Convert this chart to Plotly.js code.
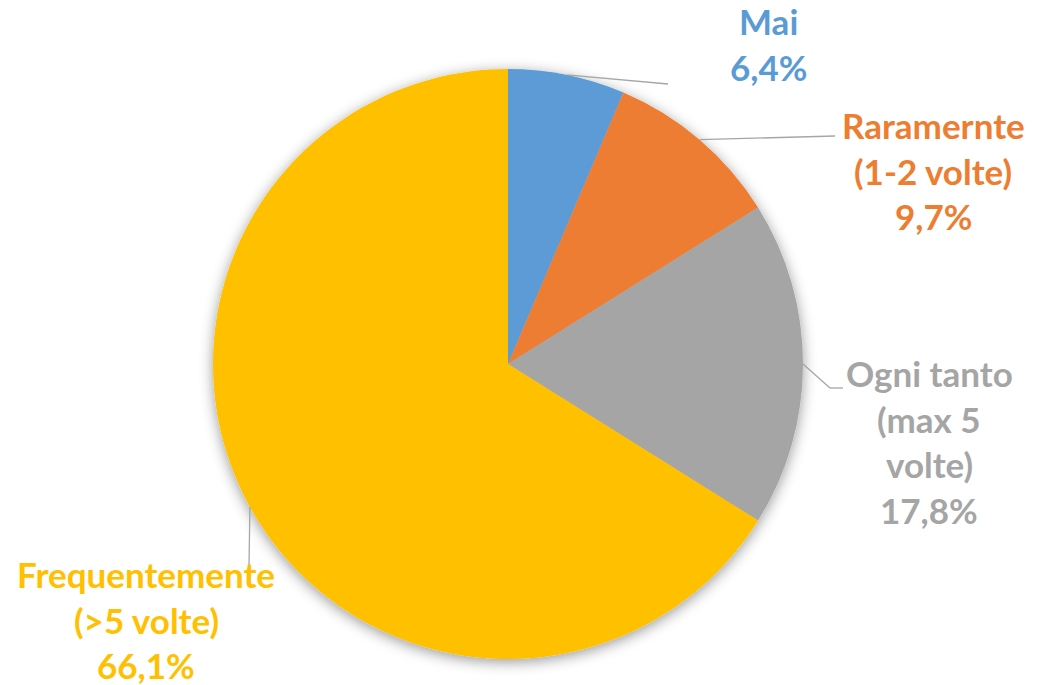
<!DOCTYPE html>
<html>
<head>
<meta charset="utf-8">
<script src="https://cdn.plot.ly/plotly-3.0.1.min.js"></script>
<style>
  html, body { margin: 0; padding: 0; background: #ffffff; }
  #chart { width: 1042px; height: 685px; }
</style>
</head>
<body>
<div id="chart"></div>
<script>
// ---- data ----
const categories = ["Mai", "Raramernte (1-2 volte)", "Ogni tanto (max 5 volte)", "Frequentemente (>5 volte)"];
const labelLines = [["Mai"], ["Raramernte", "(1-2 volte)"], ["Ogni tanto", "(max 5", "volte)"], ["Frequentemente", "(>5 volte)"]];
const values = [6.4, 9.7, 17.8, 66.1];
const colors = ["#5B9BD5", "#ED7D31", "#A5A5A5", "#FFC000"];

// ---- layout constants (pixels) ----
const W = 1042, H = 685;
const cx = 508, cy = 364, R = 295;
const px = x => x / W;
const py = y => 1 - y / H;

// label placement (center x, first baseline y) and leader line ends
const labelPos = [
  {x: 768, y: 33},
  {x: 933, y: 137},
  {x: 929, y: 385},
  {x: 146, y: 586}
];
const leaderEnds = [
  [[668, 84]],
  [[835, 136]],
  [[830, 388], [843, 388]],
  [[249, 565]]
];
const lineGap = 45.5;
const fontSize = 35;

const fmt = v => v.toFixed(1).replace(".", ",") + "%";

// leader line start points computed from slice mid-angles
const total = values.reduce((a, b) => a + b, 0);
let cum = 0;
const shapes = [];
values.forEach((v, i) => {
  const mid = (cum + v / 2) / total * 2 * Math.PI;
  cum += v;
  const sx = cx + R * Math.sin(mid);
  const sy = cy - R * Math.cos(mid);
  let pts = [[sx, sy]].concat(leaderEnds[i]);
  for (let k = 0; k < pts.length - 1; k++) {
    shapes.push({
      type: "line", xref: "paper", yref: "paper",
      x0: px(pts[k][0]), y0: py(pts[k][1]), x1: px(pts[k + 1][0]), y1: py(pts[k + 1][1]),
      line: {color: "#A6A6A6", width: 1.3}
    });
  }
});

const annotations = [];
values.forEach((v, i) => {
  const lines = labelLines[i].concat([fmt(v)]);
  lines.forEach((t, k) => {
    const baseline = labelPos[i].y + k * lineGap;
    annotations.push({
      xref: "paper", yref: "paper",
      x: px(labelPos[i].x), y: py(baseline - 0.33 * fontSize),
      xanchor: "center", yanchor: "middle",
      showarrow: false, text: t,
      font: {family: "Lato, 'Open Sans', sans-serif", size: fontSize, color: colors[i], weight: 700}
    });
  });
});

const trace = {
  type: "pie",
  labels: categories,
  values: values,
  sort: false,
  direction: "clockwise",
  rotation: 0,
  textinfo: "none",
  hoverinfo: "label+percent",
  marker: {colors: colors, line: {width: 0}},
  domain: {x: [px(cx - R), px(cx + R)], y: [py(cy + R), py(cy - R)]},
  showlegend: false
};

const layout = {
  width: W, height: H,
  margin: {l: 0, r: 0, t: 0, b: 0},
  paper_bgcolor: "#ffffff",
  showlegend: false,
  shapes: shapes,
  annotations: annotations
};

Plotly.newPlot("chart", [trace], layout, {displayModeBar: false, staticPlot: true}).then(gd => {
  // soft drop shadow around the pie
  const svg = gd.querySelector(".main-svg");
  const ns = "http://www.w3.org/2000/svg";
  let defs = svg.querySelector("defs");
  if (!defs) { defs = document.createElementNS(ns, "defs"); svg.insertBefore(defs, svg.firstChild); }
  const f = document.createElementNS(ns, "filter");
  f.setAttribute("id", "pieShadow");
  f.setAttribute("x", "-20%"); f.setAttribute("y", "-20%");
  f.setAttribute("width", "140%"); f.setAttribute("height", "140%");
  const ds = document.createElementNS(ns, "feDropShadow");
  ds.setAttribute("dx", "0"); ds.setAttribute("dy", "3");
  ds.setAttribute("stdDeviation", "7");
  ds.setAttribute("flood-color", "#000000");
  ds.setAttribute("flood-opacity", "0.4");
  f.appendChild(ds);
  defs.appendChild(f);
  const pl = svg.querySelector(".pielayer");
  if (pl) pl.setAttribute("filter", "url(#pieShadow)");
});
</script>
</body>
</html>
